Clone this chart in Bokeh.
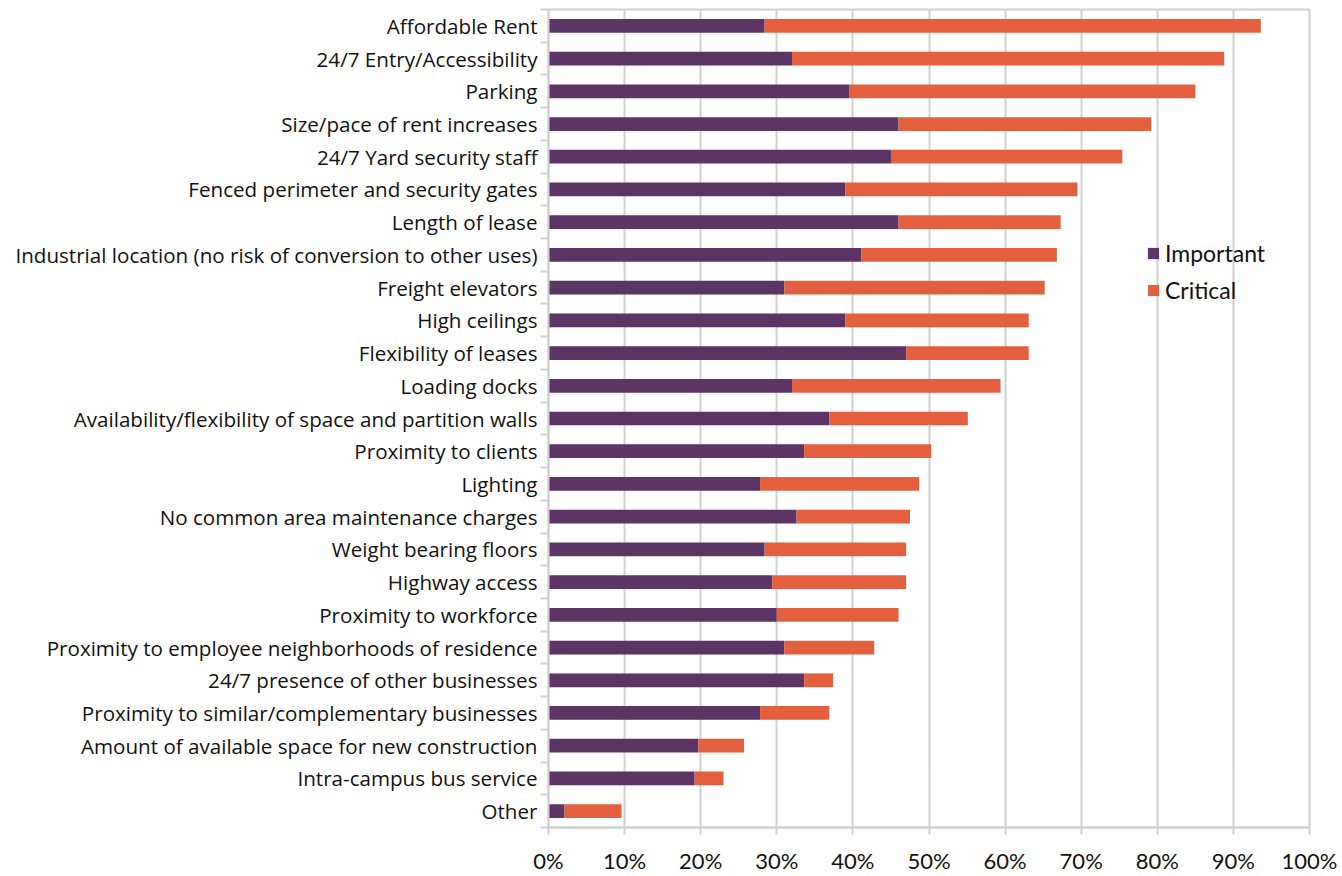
from bokeh.plotting import figure
from bokeh.models import ColumnDataSource, FixedTicker, NumeralTickFormatter, Range1d, Legend
from bokeh.embed import file_html
from bokeh.resources import INLINE

categories = [
    "Affordable Rent",
    "24/7 Entry/Accessibility",
    "Parking",
    "Size/pace of rent increases",
    "24/7 Yard security staff",
    "Fenced perimeter and security gates",
    "Length of lease",
    "Industrial location (no risk of conversion to other uses)",
    "Freight elevators",
    "High ceilings",
    "Flexibility of leases",
    "Loading docks",
    "Availability/flexibility of space and partition walls",
    "Proximity to clients",
    "Lighting",
    "No common area maintenance charges",
    "Weight bearing floors",
    "Highway access",
    "Proximity to workforce",
    "Proximity to employee neighborhoods of residence",
    "24/7 presence of other businesses",
    "Proximity to similar/complementary businesses",
    "Amount of available space for new construction",
    "Intra-campus bus service",
    "Other",
]
important = [0.284, 0.320, 0.395, 0.460, 0.450, 0.390, 0.460, 0.411, 0.310, 0.390,
             0.470, 0.320, 0.369, 0.336, 0.278, 0.326, 0.284, 0.294, 0.300, 0.310,
             0.336, 0.278, 0.197, 0.192, 0.021]
critical = [0.652, 0.568, 0.455, 0.332, 0.304, 0.305, 0.213, 0.257, 0.342, 0.241,
            0.161, 0.274, 0.182, 0.167, 0.209, 0.149, 0.186, 0.176, 0.160, 0.118,
            0.038, 0.091, 0.060, 0.038, 0.075]
x_ticks = [0.0, 0.1, 0.2, 0.3, 0.4, 0.5, 0.6, 0.7, 0.8, 0.9, 1.0]

PURPLE = "#5C3566"
ORANGE = "#E35F3D"
GRID = "#D0D0D0"

n = len(categories)
ypos = [n - i - 0.5 for i in range(n)]
src = ColumnDataSource(dict(y=ypos, Important=important, Critical=critical, cat=categories))

p = figure(width=1342, height=876, output_backend="svg", toolbar_location=None,
           x_range=Range1d(0, 1), y_range=Range1d(0, n),
           min_border_left=548, min_border_right=33, min_border_top=9, min_border_bottom=45)

rs = p.hbar_stack(["Important", "Critical"], y="y", height=0.42, source=src,
                  color=[PURPLE, ORANGE], line_color=None)

p.background_fill_color = "white"
p.border_fill_color = "white"
p.outline_line_color = GRID
p.outline_line_width = 2

# x axis
p.xaxis.ticker = FixedTicker(ticks=x_ticks)
p.xaxis.formatter = NumeralTickFormatter(format="0%")
p.xaxis.axis_line_color = GRID
p.xaxis.axis_line_width = 2
p.xaxis.major_tick_line_color = GRID
p.xaxis.major_tick_line_width = 2
p.xaxis.major_tick_out = 7
p.xaxis.major_tick_in = 0
p.xaxis.minor_tick_line_color = None
p.xaxis.major_label_text_font = "Lato"
p.xaxis.major_label_text_font_size = "22px"
p.xaxis.major_label_text_color = "#111111"
p.xaxis.major_label_standoff = 12

# y axis: labels at centers, ticks at band boundaries
p.yaxis.ticker = FixedTicker(ticks=ypos, minor_ticks=list(range(n + 1)))
p.yaxis.major_label_overrides = {y: c for y, c in zip(ypos, categories)}
p.yaxis.axis_line_color = GRID
p.yaxis.axis_line_width = 2
p.yaxis.major_tick_line_color = None
p.yaxis.minor_tick_line_color = GRID
p.yaxis.minor_tick_line_width = 2
p.yaxis.minor_tick_out = 8
p.yaxis.minor_tick_in = 0
p.yaxis.major_label_text_font = "Open Sans"
p.yaxis.major_label_text_font_size = "20.6px"
p.yaxis.major_label_text_color = "#111111"
p.yaxis.major_label_standoff = 3

p.xgrid.ticker = FixedTicker(ticks=x_ticks)
p.xgrid.grid_line_color = GRID
p.xgrid.grid_line_width = 2
p.ygrid.grid_line_color = None

legend = Legend(items=[("Important", [rs[0]]), ("Critical", [rs[1]])],
                location=(598, 523), orientation="vertical",
                glyph_width=14, glyph_height=14, label_text_font="Lato",
                label_text_font_size="23px", label_text_color="#111111",
                spacing=9, padding=0, margin=0, label_standoff=5,
                border_line_color=None, background_fill_alpha=0)
p.add_layout(legend, "center")

open("out.html", "w").write(file_html(p, INLINE))
